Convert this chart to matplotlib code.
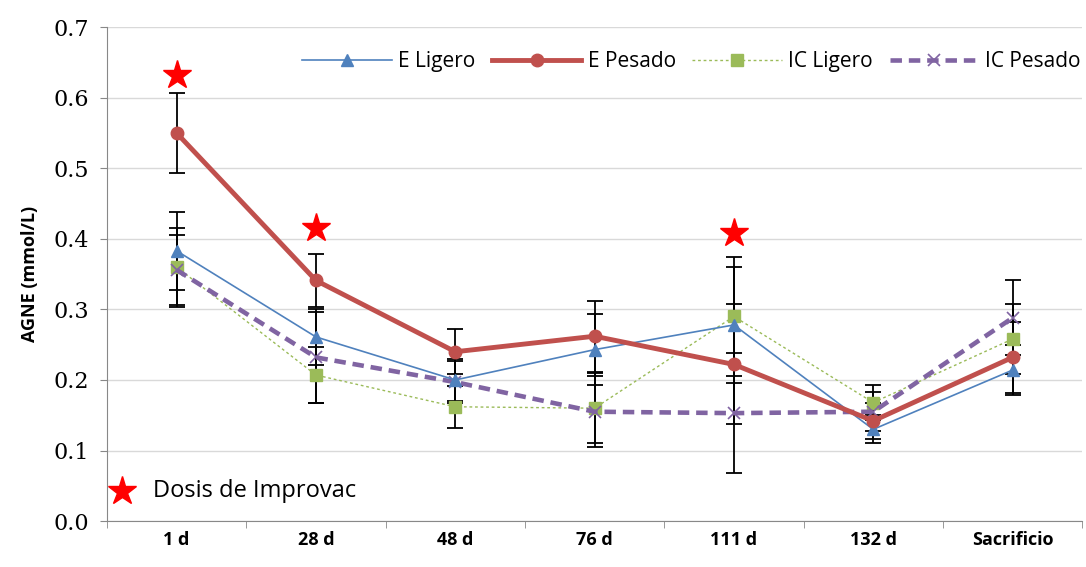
import numpy as np
import matplotlib
matplotlib.use("Agg")
import matplotlib.pyplot as plt

# data
dias = ["1 d", "28 d", "48 d", "76 d", "111 d", "132 d", "Sacrificio"]

e_ligero = [0.383, 0.261, 0.200, 0.243, 0.278, 0.130, 0.214]
e_ligero_err = [0.055, 0.040, 0.030, 0.050, 0.082, 0.020, 0.035]

e_pesado = [0.550, 0.341, 0.240, 0.262, 0.222, 0.142, 0.232]
e_pesado_err = [0.057, 0.038, 0.032, 0.050, 0.085, 0.025, 0.050]

ic_ligero = [0.360, 0.207, 0.162, 0.160, 0.290, 0.168, 0.258]
ic_ligero_err = [0.056, 0.040, 0.030, 0.050, 0.085, 0.025, 0.050]

ic_pesado = [0.356, 0.232, 0.197, 0.155, 0.153, 0.155, 0.288]
ic_pesado_err = [0.050, 0.065, 0.030, 0.050, 0.085, 0.028, 0.053]

# Improvac doses (star markers)
dosis_idx = [0, 1, 4]
dosis_y = [0.632, 0.415, 0.408]

x = np.arange(len(dias))

fig = plt.figure(figsize=(10.86, 5.67), dpi=100)
ax = fig.add_axes([0.0985, 0.081, 0.898, 0.871])

err_kw = dict(fmt="none", ecolor="black", elinewidth=1.3, capsize=6, capthick=1.3, zorder=2)
ax.errorbar(x, e_ligero, yerr=e_ligero_err, **err_kw)
ax.errorbar(x, e_pesado, yerr=e_pesado_err, **err_kw)
ax.errorbar(x, ic_ligero, yerr=ic_ligero_err, **err_kw)
ax.errorbar(x, ic_pesado, yerr=ic_pesado_err, **err_kw)

ax.plot(x, e_ligero, color="#4F81BD", lw=1.2, marker="^", ms=9, label="E Ligero", zorder=4)
ax.plot(x, e_pesado, color="#C0504D", lw=3.5, marker="o", ms=9, label="E Pesado", zorder=5)
ax.plot(x, ic_ligero, color="#9BBB59", lw=1.0, ls=(0, (2, 2)), marker="s", ms=9,
        label="IC Ligero", zorder=3)
ax.plot(x, ic_pesado, color="#8064A2", lw=3.3, ls=(0, (2.5, 1.5)), marker="x", ms=9,
        mew=1.2, label="IC Pesado", zorder=3)

ax.plot(x[dosis_idx], dosis_y, ls="none", marker="*", ms=21, color="#FF0000", zorder=6)
ax.plot([-0.39], [0.042], ls="none", marker="*", ms=21, color="#FF0000", clip_on=False)
ax.text(-0.17, 0.042, "Dosis de Improvac", fontsize=17, va="center", family="Open Sans")

ax.set_xlim(-0.5, len(dias) - 0.5)
ax.set_ylim(0, 0.7)
ax.set_yticks(np.arange(0, 0.71, 0.1))
ax.set_yticklabels(["%.1f" % v for v in np.arange(0, 0.71, 0.1)],
                   family="DejaVu Serif", fontsize=16)
ax.set_xticks(x)
ax.set_xticklabels(dias, fontsize=13, fontweight="bold", family="Open Sans")
ax.set_xticks(np.arange(-0.5, len(dias)), minor=True)
ax.tick_params(axis="x", which="major", length=0, pad=7)
ax.tick_params(axis="x", which="minor", length=5, color="#888888")
ax.tick_params(axis="y", length=5, color="#888888", pad=8)
ax.set_ylabel("AGNE (mmol/L)", fontsize=13, fontweight="bold", family="Open Sans",
              labelpad=10)

ax.grid(axis="y", color="#D9D9D9", lw=1)
ax.set_axisbelow(True)
for s in ["top", "right"]:
    ax.spines[s].set_visible(False)
for s in ["left", "bottom"]:
    ax.spines[s].set_color("#888888")

ax.legend(loc="center right", bbox_to_anchor=(1.003, 0.891), bbox_transform=fig.transFigure,
          borderaxespad=0, ncol=4, frameon=False, handlelength=4.3, columnspacing=0.8,
          handletextpad=0.3, prop={"family": "Open Sans", "size": 15})

fig.savefig("out.png", dpi=100)
